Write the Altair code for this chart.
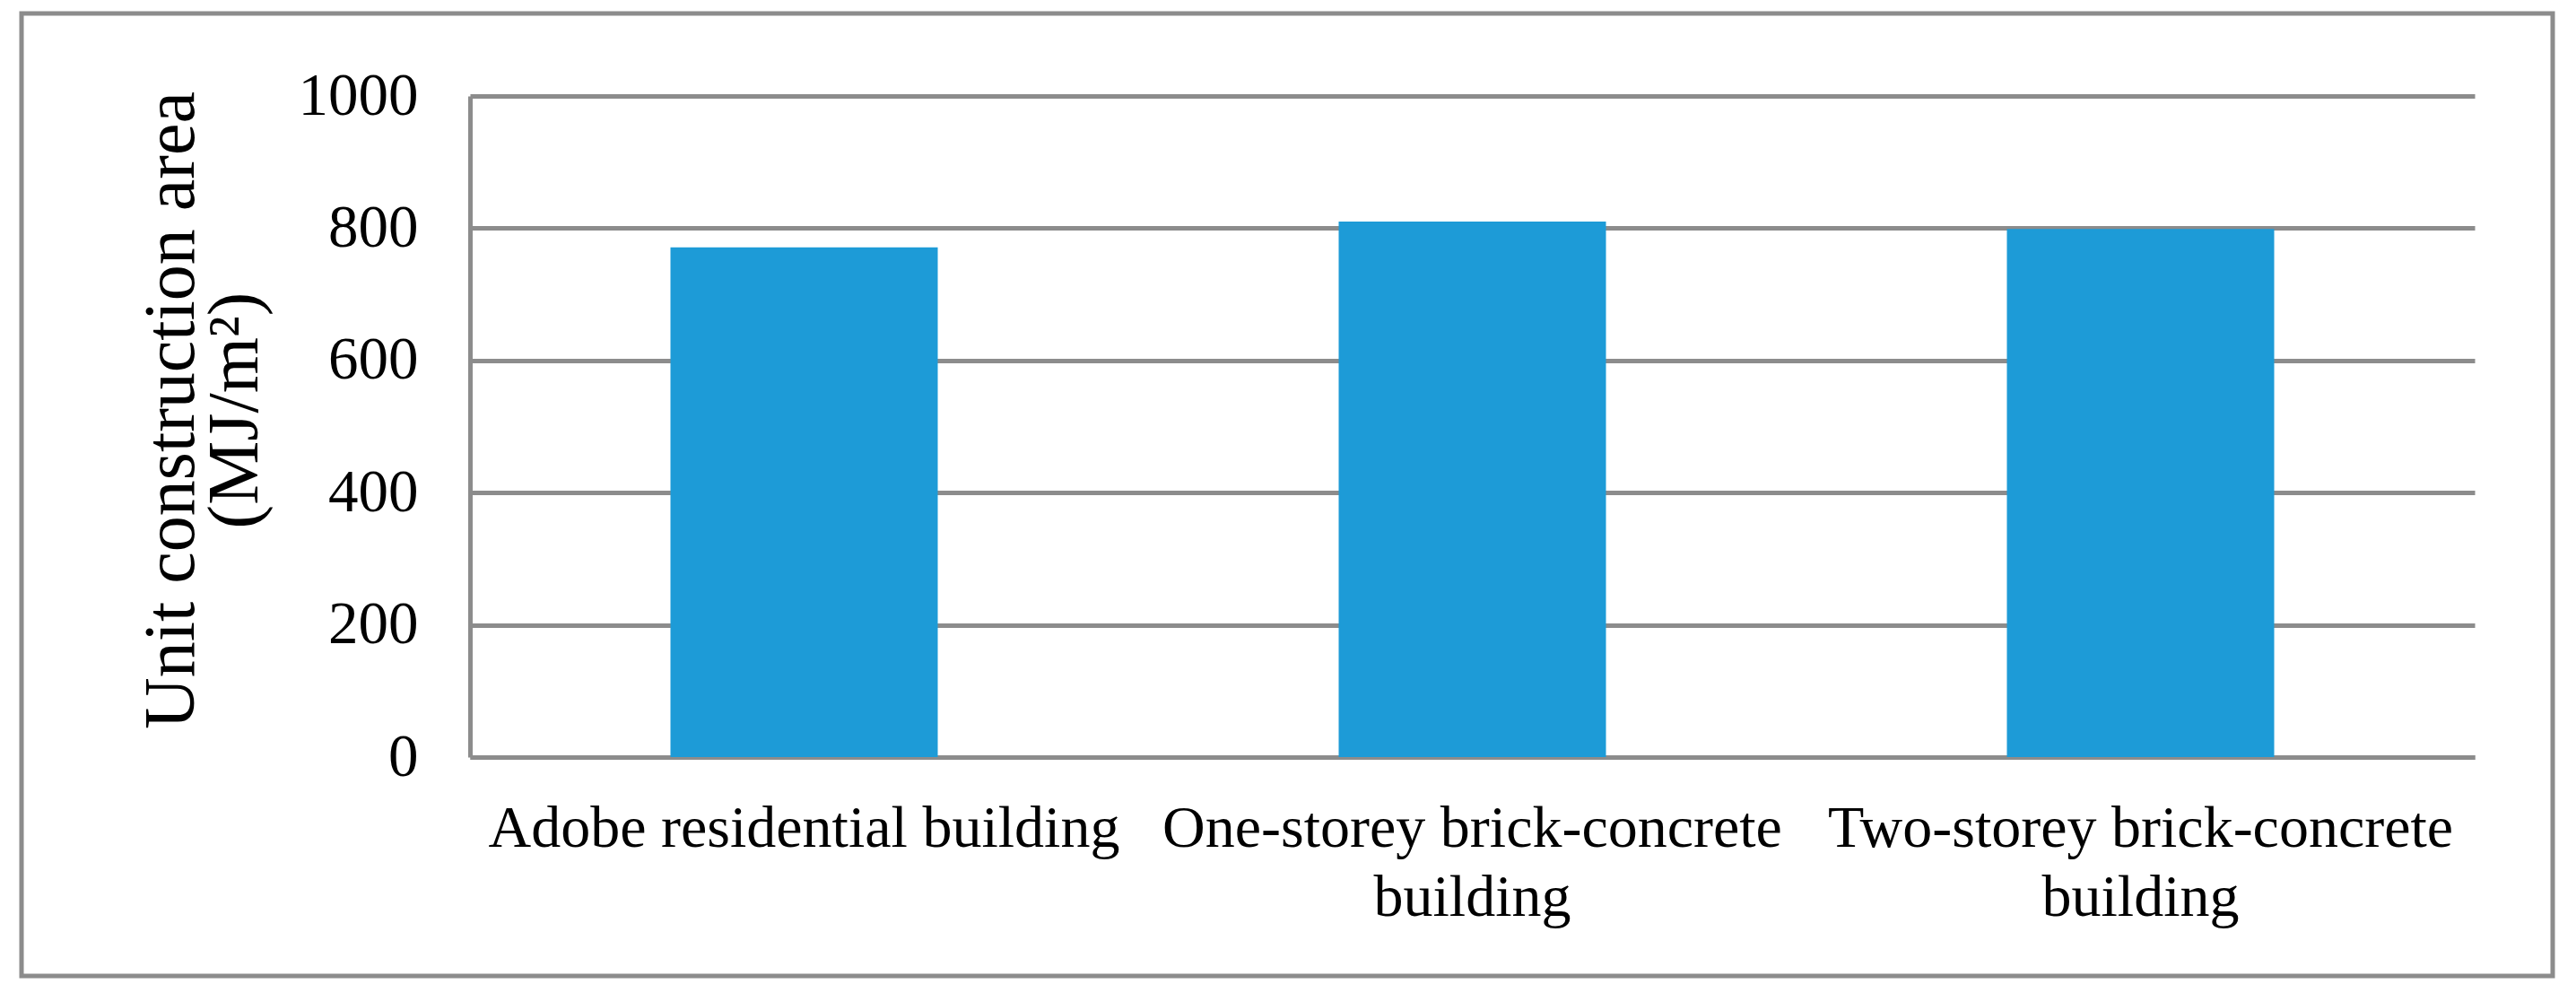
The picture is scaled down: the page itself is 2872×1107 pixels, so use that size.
import altair as alt
import pandas as pd

categories = [
    "Adobe residential building",
    "One-storey brick-concrete\nbuilding",
    "Two-storey brick-concrete\nbuilding",
]
values = [771, 810, 799]
y_ticks = [0, 200, 400, 600, 800, 1000]
y_title = ["Unit construction area", "(MJ/m²)"]

df = pd.DataFrame({"category": categories, "value": values})
frame_df = pd.DataFrame({"k": [0]})

FONT = "Liberation Serif"
GRAY = "#8c8c8c"

bars = alt.Chart(df).mark_bar(color="#1d9bd7").encode(
    x=alt.X(
        "category:N",
        sort=None,
        scale=alt.Scale(paddingInner=0.6, paddingOuter=0.3),
        axis=alt.Axis(
            title=None,
            labelAngle=0,
            labelExpr="split(datum.label, '\\n')",
            labelFont=FONT,
            labelFontSize=66,
            labelColor="black",
            labelPadding=47,
            labelLineHeight=77,
            labelLimit=0,
            ticks=False,
            tickSize=0,
            domainColor=GRAY,
            domainWidth=5,
            grid=False,
        ),
    ),
    y=alt.Y(
        "value:Q",
        scale=alt.Scale(domain=[0, 1000], nice=False),
        axis=alt.Axis(
            title=y_title,
            values=y_ticks,
            format="d",
            grid=True,
            gridColor=GRAY,
            gridWidth=5,
            domain=True,
            domainColor=GRAY,
            domainWidth=5,
            ticks=False,
            tickSize=0,
            labelFont=FONT,
            labelFontSize=67,
            labelColor="black",
            labelPadding=58,
            titleFont=FONT,
            titleFontSize=80,
            titleFontWeight="normal",
            titleColor="black",
            titleLineHeight=71,
            titleAngle=270,
            titleAlign="center",
            titleBaseline="alphabetic",
            titleX=-309,
            titleY=350,
        ),
    ),
)

frame = alt.Chart(frame_df).mark_rect(
    fill="transparent", stroke=GRAY, strokeWidth=5
).encode(
    x=alt.value(-500),
    x2=alt.value(2322),
    y=alt.value(-92),
    y2=alt.value(981),
)

chart = (
    alt.layer(bars, frame)
    .properties(
        width=2235,
        height=737,
        autosize=alt.AutoSizeParams(type="none"),
        padding={"left": 516, "top": 99, "right": 100, "bottom": 250},
        background="white",
    )
    .configure_view(stroke=None)
)

chart.save("out.html", embed_options={"renderer": "svg", "actions": False})
